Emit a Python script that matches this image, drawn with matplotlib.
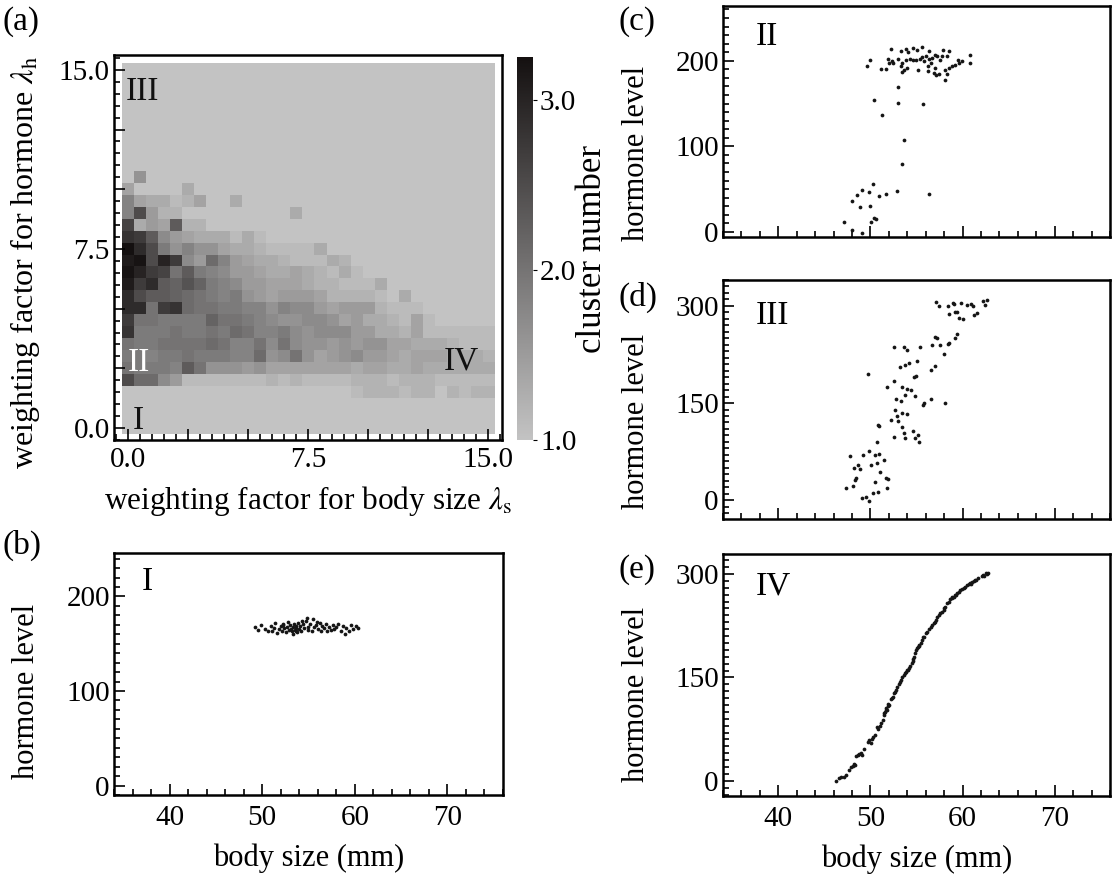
import numpy as np
import matplotlib
matplotlib.use('Agg')
import matplotlib.pyplot as plt
from matplotlib.colors import LinearSegmentedColormap
from matplotlib.ticker import MultipleLocator, FixedLocator, FuncFormatter

plt.rcParams['font.family'] = ['Liberation Serif', 'DejaVu Serif']
plt.rcParams['mathtext.fontset'] = 'stix'
FS = 21      # tick labels
FL = 22      # axis labels
FR = 24      # roman numerals / panel letters

# ---------------- data ----------------
# weighting factors on both axes of the heat map (grid step 0.5)
lambda_values = np.arange(0.0, 15.01, 0.5)

# mean cluster number x10, one string per lambda_h row (row 0 = lambda_h 0.0),
# listed from lambda_s = 0.0 upward; cells not listed are background (1.0)
cluster_rows_x10 = [
    "",
    "",
    "",
    "10 10 10 10 10 10 10 10 10 10 10 10 10 10 10 10 10 10 10 11 12 12 12 11 12 12 10 12 11 12 12",
    "25 21 21 17 15 11 11 11 11 11 11 11 12 11 12 11 11 11 11 12 12 12 11 12 12 12 11 11 11 11 11",
    "20 19 19 19 18 23 20 16 16 16 15 16 14 14 14 14 14 14 14 13 14 14 13 13 14 13 13 13 13 13 13",
    "19 19 18 19 19 20 19 19 19 18 18 21 16 17 20 16 14 15 16 17 15 15 14 13 14 14 14 13 13 13 12",
    "20 19 19 20 20 20 20 21 20 18 18 20 17 20 17 16 16 15 16 15 16 16 14 14 13 13 13 12 11 11 11",
    "28 19 19 19 20 19 19 20 19 21 20 18 18 19 17 16 17 17 17 15 15 13 13 12 14 11 11 11 11 11 11",
    "27 20 20 19 19 19 19 22 20 20 19 18 17 16 16 17 17 16 14 15 13 13 12 11 14 11",
    "29 29 20 27 28 21 20 20 19 19 18 18 16 18 17 17 15 14 15 15 15 12 11 11 11",
    "29 25 23 23 22 21 20 19 18 19 16 15 14 15 15 15 14 12 12 12 12 11 10 13",
    "31 27 29 23 22 24 22 19 18 17 15 15 14 14 14 13 12 12 11 11 11 13",
    "32 30 27 26 20 23 19 18 17 15 15 14 13 13 14 13 12 11 13 11",
    "31 32 25 30 27 17 15 21 18 15 14 13 13 12 11 11 11 13 12",
    "33 29 25 19 16 18 16 16 14 13 13 12 11 11 11 11 13",
    "28 27 23 17 15 14 13 13 13 11 13 11",
    "26 13 15 14 23 12 12",
    "18 25 15 12 12 10 10 10 10 10 10 10 10 10 13",
    "18 14 13 13 11 12 14 10 10 13",
    "14 10 10 10 10 13",
    "10 16",
    "", "", "", "", "", "", "", "", "",
]

# panel (b): region I
b_size = [49.2, 49.5, 49.9, 50.3, 50.6, 50.9, 51.1, 51.3, 51.4, 51.6, 51.8, 52.0, 52.1, 52.3,
          52.4, 52.6, 52.7, 52.8, 52.9, 53.0, 53.1, 53.2, 53.3, 53.4, 53.5, 53.6, 53.7, 53.8,
          53.9, 54.0, 54.1, 54.2, 54.4, 54.5, 54.7, 54.8, 54.9, 55.0, 55.2, 55.4, 55.5, 55.6,
          55.8, 56.0, 56.2, 56.3, 56.5, 56.7, 56.9, 57.0, 57.2, 57.4, 57.6, 57.8, 58.0, 58.2,
          58.5, 58.7, 58.9, 59.1, 59.4, 59.6, 59.8, 60.1, 60.3, 53.3, 52.2, 54.3, 53.6, 55.9]
b_hormone = [168, 165, 170, 166, 163, 169, 164, 167, 172, 161, 166, 169, 164, 171,
             167, 162, 168, 173, 165, 170, 166, 163, 168, 171, 165, 167, 169, 162,
             172, 166, 169, 164, 171, 167, 174, 177, 168, 165, 171, 163, 176, 168,
             170, 166, 172, 164, 169, 167, 171, 163, 168, 165, 170, 166, 168, 171,
             164, 169, 160, 167, 163, 170, 166, 169, 167, 160, 170, 174, 164, 173]

# panel (c): region II
c_size = [52.18, 53.33, 53.83, 54.11, 54.62, 55.09, 55.63, 56.34, 57.06, 57.85, 58.5, 51.96,
          52.47, 53.04, 53.47, 53.83, 54.26, 54.62, 54.9, 55.34, 55.63, 55.98, 56.34, 56.7,
          57.24, 57.78, 58.32, 53.29, 53.65, 54.0, 55.12, 56.2, 56.27, 56.88, 57.13, 57.42,
          58.14, 58.5, 58.86, 59.22, 59.65, 59.94, 59.5, 60.83, 60.83, 51.14, 51.68, 49.59,
          49.99, 53.04, 57.06, 58.14, 52.04, 52.32, 55.8, 56.52, 57.6, 58.32, 53.47,
          50.38, 53.0, 55.73, 51.21, 53.65, 53.44, 56.41,
          50.24, 49.06, 49.81, 48.55, 48.05, 50.96, 51.68, 52.83, 48.91, 49.92, 47.15, 50.06,
          50.42, 50.6, 48.0, 49.13]
c_hormone = [213.7, 211.8, 213.7, 210.6, 214.9, 213.0, 216.1, 211.0, 207.1, 213.0, 211.8, 202.1,
             197.4, 202.1, 197.4, 201.3, 202.1, 201.3, 200.5, 202.1, 204.4, 205.2, 202.1, 203.2,
             206.0, 205.2, 206.0, 193.5, 189.6, 191.6, 189.6, 193.5, 188.0, 185.7, 183.7, 184.9,
             189.6, 191.6, 193.5, 195.4, 197.4, 199.3, 201.3, 207.1, 197.4, 190.4, 190.4, 194.3,
             201.3, 169.4, 191.6, 177.9, 197.4, 199.3, 199.3, 197.4, 200.5, 184.9, 186.5,
             153.8, 150.7, 149.9, 137.0, 107.8, 79.8, 44.7,
             56.0, 49.4, 46.3, 43.6, 36.2, 42.4, 44.7, 48.3, 29.6, 29.9, 11.6, 11.6,
             16.3, 15.1, 2.7, -0.8]

# panel (d): region III
d_size = [57.13, 57.42, 58.43, 58.5, 58.93, 59.22, 59.08, 59.4, 59.87, 59.65, 60.01, 60.48,
          60.94, 61.09, 61.19, 61.62, 62.27, 62.45, 62.7,
          56.99, 57.24, 56.7, 57.6, 58.43, 58.57, 59.15, 59.4, 58.03, 52.58, 53.65, 54.0,
          55.34, 55.09, 56.99, 56.52, 53.22, 53.76, 54.19, 49.77, 54.76, 54.98, 52.58, 51.75,
          53.47, 54.0, 54.37, 53.76, 54.83, 52.75, 53.33, 56.52, 55.7, 55.8, 58.07, 52.68,
          53.47, 53.97, 52.83, 52.18, 53.0, 50.78, 50.96, 53.47, 53.65, 54.62, 55.12, 52.54,
          53.72, 54.83, 55.27,
          50.67, 47.8, 49.23, 49.88, 50.53, 50.89, 51.43, 48.62, 48.19, 48.87, 50.1, 50.74,
          51.0, 48.44, 48.34, 51.68, 51.86, 50.46, 47.37, 48.09, 50.82, 51.79, 50.24, 49.09,
          49.52, 49.88]
d_hormone = [306.7, 300.0, 300.0, 287.6, 304.1, 291.2, 303.1, 290.2, 304.1, 281.0, 280.0, 301.5,
             303.1, 300.0, 285.6, 288.7, 308.2, 301.5, 309.2,
             251.7, 250.2, 239.9, 239.9, 241.4, 243.5, 250.2, 256.3, 225.5, 236.3, 237.3, 231.2,
             237.3, 214.2, 206.5, 200.3, 205.5, 209.1, 211.7, 195.2, 190.0, 191.1, 183.4, 174.1,
             174.7, 172.1, 170.6, 162.3, 161.3, 156.2, 153.1, 156.2, 147.4, 150.0, 150.0, 139.7,
             134.6, 133.0, 129.4, 123.3, 121.7, 116.6, 115.1, 113.0, 103.8, 106.8, 101.2, 97.6,
             96.1, 96.1, 89.4,
             89.4, 67.8, 70.4, 75.6, 69.9, 72.0, 62.7, 54.0, 49.4, 48.8, 55.0, 57.5,
             44.2, 34.5, 30.9, 33.9, 33.4, 27.8, 19.1, 21.6, 12.4, 18.5, 11.4, 3.1,
             5.2, -0.5]

# panel (e): region IV
e_size = [46.29, 46.54, 46.83, 47.08, 47.65, 47.94, 48.09, 48.34, 48.44, 48.62, 48.8, 48.98,
          49.09, 49.7, 49.88, 50.06, 50.17, 50.46, 50.67, 50.78, 51.14, 51.32, 51.43, 51.5,
          51.61, 51.68, 51.79, 51.93, 52.04, 52.22, 52.4, 52.51, 52.65, 52.75, 52.93, 53.11,
          53.29, 53.47, 53.65, 53.76, 53.9, 54.0, 54.19, 54.3, 54.48, 54.62, 54.73, 54.83,
          54.98, 55.09, 55.27, 55.45, 55.56, 55.7, 55.84, 55.98, 56.16, 56.34, 56.52, 56.7,
          57.13, 57.24, 57.42, 57.6, 57.78, 57.96, 58.14, 58.32, 58.5, 58.68, 58.86, 59.04,
          59.22, 59.4, 59.58, 59.76, 59.94, 60.12, 60.3, 60.48, 60.65, 60.83, 61.01, 61.19,
          61.37, 61.66, 62.09, 62.27, 62.56, 62.7, 62.81,
          51.7, 51.9, 53.2, 54.1, 55.3, 56.9, 58.9, 59.3, 60.9, 47.3, 48.2, 49.3, 50.3, 51.0,
          52.3, 54.6, 55.2, 57.0, 58.0, 61.5, 62.3]
e_hormone = [0.0, 3.4, 4.9, 5.9, 15.5, 19.4, 21.3, 22.8, 35.8, 37.3, 38.8, 39.7,
             37.3, 56.7, 59.1, 55.2, 60.0, 66.3, 77.5, 74.6, 84.2, 88.1, 95.4, 97.8,
             100.2, 105.0, 102.6, 108.4, 109.9, 118.1, 122.0, 126.8, 129.2, 131.6, 136.5, 140.3,
             146.2, 150.0, 153.4, 155.8, 158.3, 160.7, 163.1, 166.5, 170.4, 174.2, 180.1, 184.9,
             189.7, 192.1, 197.0, 200.4, 204.2, 208.1, 209.1, 213.9, 216.3, 219.7, 222.6, 226.0,
             233.3, 237.1, 240.5, 242.9, 245.3, 247.8, 252.6, 257.4, 259.8, 263.2, 264.7, 267.1,
             269.5, 271.9, 274.3, 276.8, 277.7, 279.2, 281.6, 284.0, 285.5, 287.4, 288.9, 290.4,
             291.3, 293.7, 297.1, 298.6, 302.0, 300.0, 300.9,
             103, 112, 143, 161, 195, 229, 266, 270, 286, 8, 24, 46, 63, 80,
             120, 177, 194, 231, 250, 292, 297]

# ---------------- figure ----------------
W, H = 1112, 889
fig = plt.figure(figsize=(W / 100, H / 100), dpi=100)


def px_axes(x0, y0, x1, y1):
    return fig.add_axes([x0 / W, 1 - y1 / H, (x1 - x0) / W, (y1 - y0) / H])


def frame_style(ax):
    for s in ax.spines.values():
        s.set_linewidth(1.8)
    ax.tick_params(which='both', direction='in', top=False, right=False,
                   labelsize=FS, width=1.2, color='black')
    ax.tick_params(which='major', length=8)
    ax.tick_params(which='minor', length=4)
    ax.tick_params(axis='x', pad=7)
    ax.tick_params(axis='y', pad=3)


# (a) heat map
cmap = LinearSegmentedColormap.from_list('grey_cluster', ['#c3c3c3', '#141010'])
grid = np.ones((len(lambda_values), len(lambda_values)))
for j, row in enumerate(cluster_rows_x10):
    vals = [int(t) / 10 for t in row.split()]
    grid[j, :len(vals)] = vals

half = (lambda_values[1] - lambda_values[0]) / 2
axA = px_axes(114, 55, 502, 440)
im = axA.imshow(grid, origin='lower', cmap=cmap, vmin=1.0, vmax=3.25,
                extent=(lambda_values[0] - half, lambda_values[-1] + half,
                        lambda_values[0] - half, lambda_values[-1] + half),
                interpolation='nearest', aspect='auto')
axA.set_xlim(-0.57, 15.57)
axA.set_ylim(-0.5, 15.62)
frame_style(axA)
lab = FuncFormatter(lambda v, p: f'{v:.1f}' if min(abs(v - t) for t in (0, 7.5, 15)) < 1e-6 else '')
for axis in (axA.xaxis, axA.yaxis):
    axis.set_major_locator(MultipleLocator(2.5))
    axis.set_minor_locator(MultipleLocator(0.5))
    axis.set_major_formatter(lab)
axA.tick_params(axis='x', pad=5)
axA.set_xlabel(r'weighting factor for body size $\lambda_{\mathrm{s}}$', fontsize=22.5, labelpad=8)
axA.set_ylabel(r'weighting factor for hormone $\lambda_{\mathrm{h}}$', fontsize=23)
axA.yaxis.set_label_coords(-0.185, 0.46)
axA.text(0.62, 14.1, 'III', fontsize=FR, ha='center', va='center', color='#111111')
axA.text(0.45, 2.75, 'II', fontsize=FR, ha='center', va='center', color='white')
axA.text(0.45, 0.3, 'I', fontsize=FR, ha='center', va='center', color='#111111')
axA.text(13.9, 2.8, 'IV', fontsize=FR, ha='center', va='center', color='#111111')

cax = px_axes(517, 57, 533, 440)
cb = fig.colorbar(im, cax=cax, ticks=[1.0, 2.0, 3.0], format='%.1f')
cb.outline.set_visible(False)
cax.tick_params(direction='out', length=3, width=0.8, labelsize=FS, pad=2)
cb.set_label('cluster number', fontsize=25, labelpad=0)


def scatter_panel(box, xs, ys, ylim, ymajor, roman, rx, ry, xlabels, label_y):
    ax = px_axes(*box)
    ax.plot(xs, ys, 'o', ms=2.7, color='#151515', mew=0, ls='none')
    ax.set_xlim(34, 76)
    ax.set_ylim(*ylim)
    frame_style(ax)
    ax.xaxis.set_major_locator(FixedLocator([40, 50, 60, 70]))
    ax.xaxis.set_minor_locator(MultipleLocator(2))
    ax.yaxis.set_major_locator(FixedLocator(ymajor))
    ax.yaxis.set_minor_locator(MultipleLocator(10))
    if xlabels:
        ax.set_xlabel('body size (mm)', fontsize=FL, labelpad=9)
    else:
        ax.tick_params(labelbottom=False)
    ax.set_ylabel('hormone level', fontsize=FL)
    ax.yaxis.set_label_coords(-0.187, label_y)
    ax.text(rx, ry, roman, transform=ax.transAxes, fontsize=FR, ha='left', va='center')
    return ax


scatter_panel((114, 553, 503, 795), b_size, b_hormone, (-10, 246), [0, 100, 200],
              'I', 0.072, 0.88, True, 0.43)
scatter_panel((723, 6, 1110, 237), c_size, c_hormone, (-6, 264), [0, 100, 200],
              'II', 0.085, 0.865, False, 0.36)
scatter_panel((723, 280, 1110, 519), d_size, d_hormone, (-29, 340), [0, 150, 300],
              'III', 0.085, 0.85, False, 0.41)
scatter_panel((723, 554, 1110, 796), e_size, e_hormone, (-22, 329), [0, 150, 300],
              'IV', 0.085, 0.865, True, 0.42)

for lbl, x, y in [('(a)', 3, 22), ('(b)', 3, 545), ('(c)', 618, 22), ('(d)', 618, 297), ('(e)', 618, 570)]:
    fig.text(x / W, 1 - y / H, lbl, fontsize=FR, ha='left', va='center')

fig.savefig('out.png', dpi=100)
